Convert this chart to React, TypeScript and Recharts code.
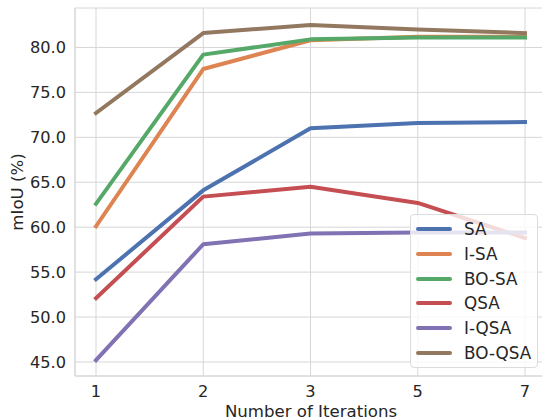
import { LineChart, Line, XAxis, YAxis, CartesianGrid } from "recharts";

const iterations = ["1", "2", "3", "5", "7"];
const sa = [54.2, 64.1, 71.0, 71.6, 71.7];
const iSa = [60.1, 77.6, 80.8, 81.2, 81.2];
const boSa = [62.6, 79.2, 80.9, 81.1, 81.1];
const qsa = [52.1, 63.4, 64.5, 62.7, 58.8];
const iQsa = [45.2, 58.1, 59.3, 59.4, 59.4];
const boQsa = [72.7, 81.6, 82.5, 82.0, 81.6];
const yTicks = [45, 50, 55, 60, 65, 70, 75, 80];

const series = [
  { key: "SA", values: sa, color: "#4C72B0" },
  { key: "I-SA", values: iSa, color: "#DD8452" },
  { key: "BO-SA", values: boSa, color: "#55A868" },
  { key: "QSA", values: qsa, color: "#C44E52" },
  { key: "I-QSA", values: iQsa, color: "#8172B3" },
  { key: "BO-QSA", values: boQsa, color: "#937860" },
];

const data = iterations.map((it, i) => {
  const row: Record<string, string | number> = { it };
  series.forEach((s) => (row[s.key] = s.values[i]));
  return row;
});

const FONT = "DejaVu Sans, sans-serif";
const GRID = "#d6d6d6";
const TEXT = "#262626";
const Y_DOMAIN: [number, number] = [43.44, 84.39];

function LegendBox() {
  return (
    <div
      style={{
        position: "absolute",
        left: 410,
        top: 214,
        background: "rgba(255,255,255,0.8)",
        border: "1px solid #dcdcdc",
        borderRadius: 4,
        width: 128,
        height: 154,
        boxSizing: "border-box",
        padding: "2px 0 0 5px",
        fontFamily: FONT,
        fontSize: 16.8,
        color: TEXT,
      }}
    >
      {series.map((s) => (
        <div key={s.key} style={{ display: "flex", alignItems: "center", height: 24.67 }}>
          <div style={{ width: 36, height: 4, borderRadius: 2, background: s.color }} />
          <span style={{ marginLeft: 12 }}>{s.key}</span>
        </div>
      ))}
    </div>
  );
}

export default function App() {
  return (
    <div
      style={{
        position: "absolute",
        left: 0,
        top: 0,
        width: 542,
        height: 419,
        overflow: "hidden",
        background: "#fff",
      }}
    >
      <LineChart
        width={547}
        height={419}
        data={data}
        margin={{ top: 8, right: 0, bottom: 0, left: 0 }}
      >
        <CartesianGrid stroke={GRID} strokeWidth={1} />
        <XAxis
          dataKey="it"
          type="category"
          padding={{ left: 21, right: 22 }}
          height={43}
          axisLine={{ stroke: GRID }}
          tickLine={false}
          tickSize={6}
          tickMargin={3}
          tick={{ fill: TEXT, fontSize: 16.2, fontFamily: FONT }}
          label={{
            value: "Number of Iterations",
            position: "insideBottom",
            offset: 2.5,
            fill: TEXT,
            fontSize: 16.6,
            fontFamily: FONT,
          }}
        />
        <XAxis
          xAxisId="top"
          dataKey="it"
          orientation="top"
          height={0}
          tick={false}
          tickLine={false}
          axisLine={{ stroke: GRID }}
        />
        <YAxis
          domain={Y_DOMAIN}
          ticks={yTicks}
          width={75}
          axisLine={{ stroke: GRID }}
          tickLine={false}
          tickSize={6}
          tickMargin={3}
          tickFormatter={(v: number) => v.toFixed(1)}
          tick={{ fill: TEXT, fontSize: 16.2, fontFamily: FONT }}
          label={{
            value: "mIoU (%)",
            angle: -90,
            position: "insideLeft",
            offset: 17,
            style: { textAnchor: "middle" },
            fill: TEXT,
            fontSize: 16.6,
            fontFamily: FONT,
          }}
        />
        {series.map((s) => (
          <Line
            key={s.key}
            dataKey={s.key}
            stroke={s.color}
            strokeWidth={4}
            strokeLinecap="square"
            strokeLinejoin="round"
            dot={false}
            activeDot={false}
            isAnimationActive={false}
          />
        ))}
      </LineChart>
      <LegendBox />
    </div>
  );
}
